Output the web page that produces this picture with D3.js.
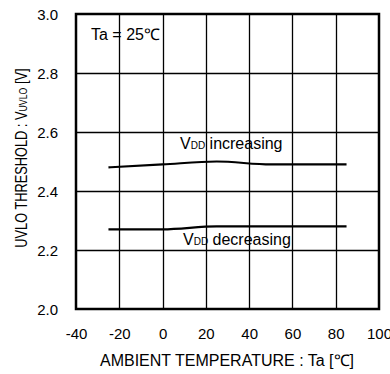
<!DOCTYPE html>
<html><head><meta charset="utf-8">
<script src="https://cdn.jsdelivr.net/npm/d3@7"></script>
<style>body{margin:0;background:#fff}svg{display:block}text{font-family:"Liberation Sans",Arial,sans-serif;fill:#000}</style>
</head><body><svg id="c" width="390" height="374"></svg>
<script>
const xTicks=[-40,-20,0,20,40,60,80,100];
const yTicks=[2.0,2.2,2.4,2.6,2.8,3.0];
const tempInc=[-25,0,25,50,85];
const vddInc=[2.48,2.49,2.50,2.49,2.49];
const tempDec=[-25,0,25,50,85];
const vddDec=[2.27,2.27,2.28,2.28,2.28];

const svg=d3.select("#c");
const L=76,R=379,T=14,B=309;
const x=d3.scaleLinear().domain([-40,100]).range([L,R]);
const y=d3.scaleLinear().domain([2.0,3.0]).range([B,T]);
const FF="Liberation Sans, Arial, sans-serif";
svg.append("path").attr("d",`M${L},${T}H${R}V${B}H${L}Z`).attr("fill","none").attr("stroke","#000").attr("stroke-width",2.5);
const gridD=xTicks.slice(1,-1).map(d=>`M${Math.round(x(d))+0.5},${T}V${B}`).join("")+
            yTicks.slice(1,-1).map(d=>`M${L},${Math.round(y(d))+0.5}H${R}`).join("");
svg.append("path").attr("d",gridD).attr("fill","none").attr("stroke","#000").attr("stroke-width",1.3);
const xa=d3.axisBottom(x).tickValues(xTicks).tickSize(0).tickPadding(0).tickFormat(d=>String(d));
const xg=svg.append("g").attr("transform",`translate(0,${B})`).call(xa);
xg.select(".domain").remove();
xg.selectAll("text").attr("y",30).attr("dy",0).style("font-size","15px").style("font-family",FF).attr("fill","#000");
const ya=d3.axisLeft(y).tickValues(yTicks).tickSize(0).tickPadding(0).tickFormat(d3.format(".1f"));
const yg=svg.append("g").attr("transform",`translate(${L},0)`).call(ya);
yg.select(".domain").remove();
yg.selectAll("text").attr("x",-18).attr("dy","0.35em").style("font-size","15px").style("font-family",FF).attr("fill","#000");
const lineGen=d3.line().x(d=>x(d[0])).y(d=>y(d[1])).curve(d3.curveMonotoneX);
svg.append("path").datum(tempInc.map((t,i)=>[t,vddInc[i]])).attr("d",lineGen).attr("fill","none").attr("stroke","#000").attr("stroke-width",2.2);
svg.append("path").datum(tempDec.map((t,i)=>[t,vddDec[i]])).attr("d",lineGen).attr("fill","none").attr("stroke","#000").attr("stroke-width",2.2);
function vdd(xp,yp,rest){
  const t=svg.append("text").attr("x",xp).attr("y",yp).style("font-size","16px");
  t.append("tspan").text("V");
  t.append("tspan").text("DD").style("font-size","10px");
  t.append("tspan").text(rest);
}
vdd(180,149," increasing");
vdd(183,245," decreasing");
svg.append("text").attr("x",91).attr("y",40).style("font-size","16px").text("Ta = 25℃");
const yt=svg.append("text").attr("transform","translate(27,158) rotate(-90) scale(0.8,1)").attr("text-anchor","middle").style("font-size","16px");
yt.append("tspan").text("UVLO THRESHOLD : V");
yt.append("tspan").text("UVLO").style("font-size","11px");
yt.append("tspan").text(" [V]");
svg.append("text").attr("x",227).attr("y",366).attr("text-anchor","middle").style("font-size","16px").text("AMBIENT TEMPERATURE : Ta [℃]");
</script></body></html>
